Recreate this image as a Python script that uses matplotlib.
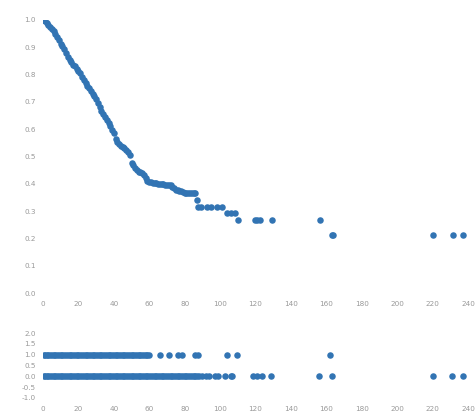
import matplotlib
matplotlib.use("Agg")
import matplotlib.pyplot as plt

# Survival curve: time points and estimated survival probability
times = [0, 1, 2, 3, 4, 5, 6, 7, 8, 9, 10, 11, 12, 13, 14, 15, 16, 17, 18, 19,
         20, 21, 22, 23, 24, 25, 26, 27, 28, 29, 30, 31, 32, 33, 34, 35, 36, 37, 38, 39,
         40, 41, 42, 43, 44, 45, 46, 47, 48, 49, 50, 51, 52, 53, 54, 55, 56, 57, 58, 59,
         60, 61, 62, 63, 64, 65, 66, 67, 68, 69, 70, 71, 72, 73, 74, 75, 76, 77, 78, 79,
         80, 81, 82, 83, 84, 85, 86,
         87, 87.5, 89, 92.6, 95, 98, 101, 104, 106, 108.5, 110, 119.8, 121, 122.6, 129.4,
         156.5, 163, 164, 220, 231.6, 237]
survival = [1.0, .995, .99, .983, .975, .968, .96, .95, .938, .925,
            .913, .903, .892, .88, .866, .855, .845, .835, .83, .82,
            .812, .805, .792, .78, .768, .758, .75, .74, .73, .72,
            .71, .695, .68, .665, .655, .645, .634, .622, .61, .598,
            .585, .565, .552, .545, .54, .536, .53, .524, .518, .505,
            .478, .47, .458, .45, .445, .442, .44, .432, .42, .41,
            .406, .405, .404, .403, .402, .401, .40, .399, .398, .397,
            .397, .396, .394, .39, .385, .378, .376, .374, .372, .37,
            .368, .366, .365, .366, .366, .366, .366,
            .34, .315, .315, .315, .315, .315, .315, .293, .293, .293, .267, .267, .267, .267, .267,
            .267, .212, .212, .212, .212, .212]

# Observation times by event indicator (1 = event, 0 = censored)
event_times = [0.5, 1, 2, 3, 4, 5, 6, 7, 8, 9, 10, 11, 12, 13, 14, 15, 16, 17, 18, 19,
               20, 21, 22, 23, 24, 25, 26, 27, 28, 29, 30, 31, 32, 33, 34, 35, 36, 37, 38, 39,
               40, 41, 42, 43, 44, 45, 46, 47, 48, 49, 50, 51, 52, 53, 54, 55, 56, 57, 58, 59,
               60, 66, 71, 76, 78.5, 86, 87.5, 104, 109.7, 162]
censor_times = [0.5, 1, 2, 3, 4, 5, 6, 7, 8, 9, 10, 11, 12, 13, 14, 15, 16, 17, 18, 19,
                20, 21, 22, 23, 24, 25, 26, 27, 28, 29, 30, 31, 32, 33, 34, 35, 36, 37, 38, 39,
                40, 41, 42, 43, 44, 45, 46, 47, 48, 49, 50, 51, 52, 53, 54, 55, 56, 57, 58, 59,
                60, 61, 62, 63, 64, 65, 66, 67, 68, 69, 70, 71, 72, 73, 74, 75, 76, 77, 78, 79,
                80, 81, 82, 83, 84, 85, 86, 87, 88, 90, 92, 94, 97, 99, 103, 106, 107,
                118.6, 121, 123.7, 129, 156, 163, 220, 231, 237]

x_ticks = [0, 20, 40, 60, 80, 100, 120, 140, 160, 180, 200, 220, 240]
top_yticks = [0.0, 0.1, 0.2, 0.3, 0.4, 0.5, 0.6, 0.7, 0.8, 0.9, 1.0]
bottom_yticks = [-1.0, -0.5, 0.0, 0.5, 1.0, 1.5, 2.0]

color = "#3274b3"
label_color = "#999999"
W, H = 475, 416
fig = plt.figure(figsize=(W / 100, H / 100), dpi=100)

ax1 = fig.add_axes([43 / W, (H - 293) / H, 425 / W, 273 / H])
ax2 = fig.add_axes([43 / W, (H - 398) / H, 425 / W, 65 / H])

ms = 22
ax1.scatter(times, survival, s=ms, color=color, linewidths=0)
ax2.scatter(event_times, [1] * len(event_times), s=ms, color=color, linewidths=0)
ax2.scatter(censor_times, [0] * len(censor_times), s=ms, color=color, linewidths=0)

ax1.set_ylim(0, 1.0)
ax1.set_yticks(top_yticks)
ax1.set_yticklabels([f"{v:.1f}" for v in top_yticks])
ax2.set_ylim(-1.0, 2.0)
ax2.set_yticks(bottom_yticks)
ax2.set_yticklabels([f"{v:.1f}" for v in bottom_yticks])

for ax in (ax1, ax2):
    ax.set_xlim(0, 240)
    ax.set_xticks(x_ticks)
    ax.set_xticklabels([str(v) for v in x_ticks])
    for s in ax.spines.values():
        s.set_visible(False)
    ax.tick_params(axis="both", length=0, labelsize=5.2, labelcolor=label_color, pad=6)
    ax.tick_params(axis="y", pad=5)
    ax.set_facecolor("white")

fig.savefig("out.png", dpi=100, facecolor="white")
